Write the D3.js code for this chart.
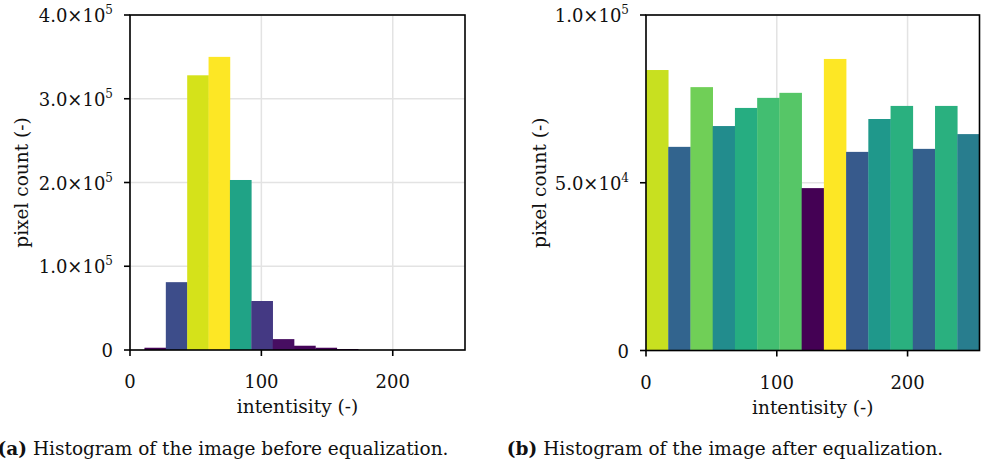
<!DOCTYPE html>
<html lang="en">
<head>
  <meta charset="UTF-8">
  <title>Histograms before and after equalization</title>
  <script src="https://d3js.org/d3.v7.min.js"></script>
  <style>
    * { margin: 0; padding: 0; box-sizing: border-box; }
    body { background: #fff; width: 982px; height: 466px; overflow: hidden; }
    svg { font-family: 'DejaVu Serif', serif; }
    .tick-label { font-size: 18px; fill: #111; }
    .axis-label { font-size: 18.5px; fill: #111; }
    .caption { font-size: 18.5px; fill: #111; }
  </style>
</head>
<body>
  <svg id="chart" width="982" height="466"></svg>

  <script>
    // before equalization: 15 bins spanning the image's own range
    const beforeRange = [11, 255];
    const beforeCounts = [2700, 81000, 328000, 350000, 203000, 58500, 13000, 5100, 2700, 1200, 0, 0, 0, 0, 0];

    // after equalization: 15 bins over 0..255
    const afterRange = [0, 255];
    const afterCounts = [83600, 60700, 78500, 66900, 72300, 75300, 76800, 48400, 86900, 59200, 69000, 72900, 60100, 72900, 64500];

    const xTicks = [0, 100, 200];
    const beforeYTicks = [0, 1e5, 2e5, 3e5, 4e5];
    const afterYTicks = [0, 5e4, 1e5];

    const svg = d3.select("#chart");

    function sciLabel(sel, v) {
      if (v === 0) { sel.text("0"); return; }
      const exp = Math.floor(Math.log10(v));
      const mant = (v / Math.pow(10, exp)).toFixed(1);
      sel.append("tspan").text(mant + "\u00d710");
      sel.append("tspan").attr("font-size", "12px").attr("dy", -8).text(exp);
    }

    function drawPanel(opt) {
      const x = d3.scaleLinear().domain([0, 255]).range([opt.left, opt.right]);
      const y = d3.scaleLinear().domain([0, opt.yMax]).range([opt.bottom, opt.top]);
      const g = svg.append("g");

      // grid (behind bars)
      g.selectAll(".gx").data(xTicks).enter().append("line")
        .attr("x1", d => x(d)).attr("x2", d => x(d))
        .attr("y1", opt.top).attr("y2", opt.bottom)
        .attr("stroke", "#e3e3e3").attr("stroke-width", 1.5);
      g.selectAll(".gy").data(opt.yTicks).enter().append("line")
        .attr("x1", opt.left).attr("x2", opt.right)
        .attr("y1", d => y(d)).attr("y2", d => y(d))
        .attr("stroke", "#e3e3e3").attr("stroke-width", 1.5);

      // bars
      const n = opt.counts.length;
      const w = (opt.range[1] - opt.range[0]) / n;
      const lo = d3.min(opt.counts), hi = d3.max(opt.counts);
      const clipId = "clip" + opt.id;
      svg.append("clipPath").attr("id", clipId).append("rect")
        .attr("x", opt.left).attr("y", opt.top)
        .attr("width", opt.right - opt.left).attr("height", opt.bottom - opt.top);
      g.append("g").attr("clip-path", `url(#${clipId})`)
        .selectAll("rect").data(opt.counts).enter().append("rect")
        .attr("x", (d, i) => x(opt.range[0] + i * w))
        .attr("width", (d, i) => x(opt.range[0] + (i + 1) * w) - x(opt.range[0] + i * w) + 0.3)
        .attr("y", d => y(d))
        .attr("height", d => y(0) - y(d))
        .attr("fill", d => d3.interpolateViridis((d - lo) / (hi - lo)));

      // frame
      g.append("rect")
        .attr("x", opt.left).attr("y", opt.top)
        .attr("width", opt.right - opt.left).attr("height", opt.bottom - opt.top)
        .attr("fill", "none").attr("stroke", "#000").attr("stroke-width", 1.6);

      // x ticks
      const xt = g.selectAll(".xt").data(xTicks).enter().append("g");
      xt.append("line")
        .attr("x1", d => x(d)).attr("x2", d => x(d))
        .attr("y1", opt.bottom).attr("y2", opt.bottom + 6)
        .attr("stroke", "#000").attr("stroke-width", 1.6);
      xt.append("text").attr("class", "tick-label")
        .attr("x", d => x(d)).attr("y", opt.bottom + 38)
        .attr("text-anchor", "middle").text(d => d);

      // y ticks
      const yt = g.selectAll(".yt").data(opt.yTicks).enter().append("g");
      yt.append("line")
        .attr("x1", opt.left - 6).attr("x2", opt.left)
        .attr("y1", d => y(d)).attr("y2", d => y(d))
        .attr("stroke", "#000").attr("stroke-width", 1.6);
      yt.append("text").attr("class", "tick-label")
        .attr("x", opt.left - 17).attr("y", d => y(d) + 7)
        .attr("text-anchor", "end")
        .each(function(d) { sciLabel(d3.select(this), d); });

      // axis labels
      g.append("text").attr("class", "axis-label")
        .attr("x", (opt.left + opt.right) / 2).attr("y", opt.bottom + 63)
        .attr("text-anchor", "middle").text("intentisity (-)");
      g.append("text").attr("class", "axis-label")
        .attr("transform", `translate(${opt.yLabelX},${(opt.top + opt.bottom) / 2}) rotate(-90)`)
        .attr("text-anchor", "middle").text("pixel count (-)");

      // caption
      const cap = g.append("text").attr("class", "caption")
        .attr("x", opt.capX).attr("y", 455).attr("text-anchor", "middle");
      cap.append("tspan").attr("font-weight", "bold").text(opt.tag);
      cap.append("tspan").text(" " + opt.caption);
    }

    drawPanel({
      id: "a", left: 130, right: 465, top: 15, bottom: 350,
      range: beforeRange, counts: beforeCounts, yMax: 4e5, yTicks: beforeYTicks,
      yLabelX: 28, capX: 223, tag: "(a)",
      caption: "Histogram of the image before equalization."
    });

    drawPanel({
      id: "b", left: 646, right: 979.5, top: 15, bottom: 350.5,
      range: afterRange, counts: afterCounts, yMax: 1e5, yTicks: afterYTicks,
      yLabelX: 546, capX: 725, tag: "(b)",
      caption: "Histogram of the image after equalization."
    });
  </script>
</body>
</html>
